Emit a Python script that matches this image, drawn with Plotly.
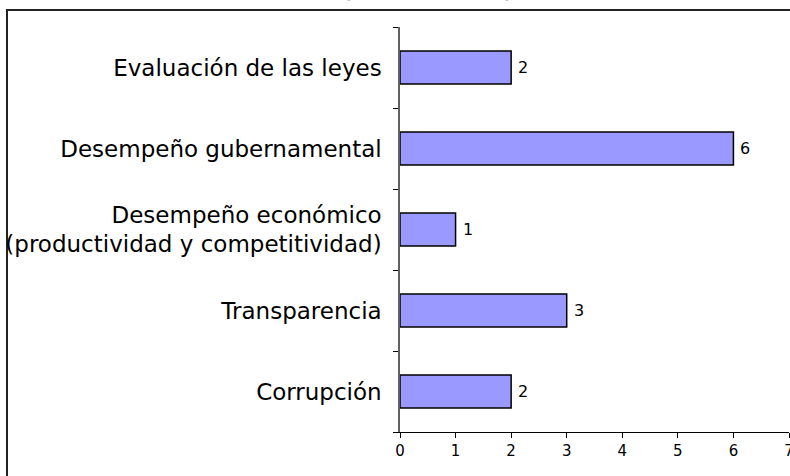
import plotly.graph_objects as go

categories = [
    "Corrupción",
    "Transparencia",
    "Desempeño económico<br>(productividad y competitividad)",
    "Desempeño gubernamental",
    "Evaluación de las leyes",
]
values = [2, 3, 1, 6, 2]
x_ticks = [0, 1, 2, 3, 4, 5, 6, 7]
title_text = "<b>(número de casos)</b>"

W, H = 790, 476
L, R, T, B = 400, 1, 27, 44
pw, ph = W - L - R, H - T - B

font = "DejaVu Sans, Arial, sans-serif"

fig = go.Figure(
    go.Bar(
        y=categories,
        x=values,
        orientation="h",
        marker=dict(color="#9999FF", line=dict(color="#000000", width=1.5)),
        cliponaxis=False,
        width=0.41,
        hoverinfo="x+y",
    )
)

value_labels = [
    dict(
        x=v,
        y=c,
        xref="x",
        yref="y",
        text=str(v),
        xanchor="left",
        yanchor="middle",
        xshift=5,
        showarrow=False,
        font=dict(family=font, size=16, color="#000000"),
    )
    for c, v in zip(categories, values)
]

fig.update_layout(
    width=W,
    height=H,
    margin=dict(l=L, r=R, t=T, b=B, autoexpand=False),
    paper_bgcolor="white",
    plot_bgcolor="white",
    showlegend=False,
    font=dict(family=font, size=23, color="#000000"),
    xaxis=dict(
        range=[0, 7],
        tickvals=x_ticks,
        ticks="outside",
        ticklen=5,
        tickcolor="#000000",
        showline=True,
        linecolor="#000000",
        linewidth=1,
        showgrid=False,
        zeroline=False,
        tickfont=dict(family=font, size=15),
        ticklabeloverflow="allow",
        automargin=False,
        fixedrange=True,
    ),
    yaxis=dict(
        type="category",
        categoryorder="array",
        categoryarray=categories,
        range=[-0.5, 4.5],
        tickson="boundaries",
        ticks="outside",
        ticklen=5,
        tickcolor="#000000",
        showline=True,
        linecolor="#606060",
        linewidth=1.5,
        showgrid=False,
        zeroline=False,
        ticklabelstandoff=12,
        automargin=False,
        tickfont=dict(family=font, size=23),
    ),
    shapes=[
        dict(
            type="rect",
            xref="paper",
            yref="paper",
            x0=(7 - L) / pw,
            x1=1.05,
            y0=-0.3,
            y1=1 + (T - 10) / ph,
            line=dict(color="#222222", width=2),
            fillcolor="rgba(0,0,0,0)",
            layer="below",
        )
    ],
    annotations=value_labels
    + [
        dict(
            text=title_text,
            xref="paper",
            yref="paper",
            x=(428 - L) / pw,
            y=1 + (T - 4) / ph,
            xanchor="center",
            yanchor="bottom",
            showarrow=False,
            font=dict(family=font, size=16, color="#000000"),
        )
    ],
)

fig.write_html(
    "out.html",
    config={"displayModeBar": False},
    post_script="document.body.style.margin='0';document.body.style.padding='0';document.body.style.overflow='hidden';",
)
